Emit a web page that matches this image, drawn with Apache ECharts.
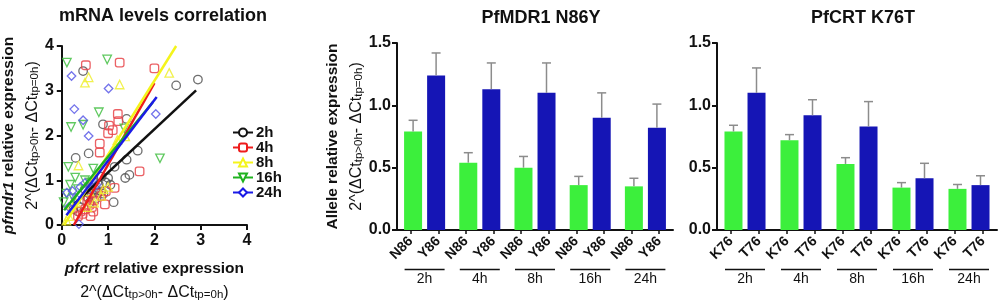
<!DOCTYPE html>
<html>
<head>
<meta charset="utf-8">
<script src="https://cdn.jsdelivr.net/npm/echarts@6/dist/echarts.min.js"></script>
<style>
  html, body { margin: 0; padding: 0; background: #fff; }
  #chart { width: 1003px; height: 306px; }
</style>
</head>
<body>
<div id="chart"></div>
<script>
// ---- data ----
const timePoints = ['2h', '4h', '8h', '16h', '24h'];
const mdrLabels = ['N86', 'Y86', 'N86', 'Y86', 'N86', 'Y86', 'N86', 'Y86', 'N86', 'Y86'];
const crtLabels = ['K76', 'T76', 'K76', 'T76', 'K76', 'T76', 'K76', 'T76', 'K76', 'T76'];

const mdrN86 = [0.79, 0.54, 0.50, 0.36, 0.35];
const mdrN86Err = [0.09, 0.08, 0.09, 0.07, 0.065];
const mdrY86 = [1.24, 1.13, 1.10, 0.90, 0.82];
const mdrY86Err = [0.18, 0.21, 0.24, 0.20, 0.19];

const crtK76 = [0.79, 0.72, 0.53, 0.34, 0.33];
const crtK76Err = [0.05, 0.045, 0.05, 0.04, 0.035];
const crtT76 = [1.10, 0.92, 0.83, 0.415, 0.36];
const crtT76Err = [0.20, 0.125, 0.20, 0.12, 0.075];

// scatter: [pfcrt, pfmdr1]
const pts2h = [[0.46, 3.44], [2.94, 3.25], [2.47, 3.12], [0.89, 2.25], [1.40, 2.37], [0.30, 1.50], [0.58, 1.60],
  [1.40, 1.46], [1.64, 1.66], [1.37, 1.05], [1.46, 1.12], [1.14, 1.30], [1.12, 0.51], [0.86, 1.08], [1.00, 1.05],
  [0.95, 0.95], [0.80, 0.90], [0.72, 0.80], [0.65, 0.70], [0.55, 0.62], [0.48, 0.55], [0.60, 0.50], [0.75, 0.60],
  [0.85, 0.75], [0.70, 0.95], [0.40, 0.40], [0.35, 0.30], [0.90, 0.70], [1.05, 0.90], [0.62, 0.85], [0.78, 0.72],
  [0.50, 0.80], [0.25, 0.35]];
const pts4h = [[0.52, 3.57], [1.25, 3.63], [2.00, 3.50], [1.21, 2.48], [1.22, 2.32], [1.00, 2.05], [1.10, 2.12],
  [1.02, 2.22], [0.82, 1.82], [0.82, 1.62], [1.68, 1.20], [1.14, 0.83], [0.93, 0.46], [0.60, 0.45], [0.50, 0.35],
  [0.45, 0.25], [0.70, 0.55], [0.75, 0.70], [0.55, 0.55], [0.65, 0.40], [0.40, 0.30], [0.85, 0.65], [0.68, 0.30],
  [0.58, 0.62], [0.95, 0.75], [0.35, 0.20], [0.62, 0.20]];
const pts8h = [[0.50, 3.18], [0.58, 3.30], [1.25, 3.14], [2.32, 3.40], [0.36, 1.33], [1.37, 1.98], [1.20, 1.90],
  [0.90, 0.80], [0.70, 0.50], [0.55, 0.40], [0.30, 0.50], [0.20, 0.45], [0.85, 0.65], [0.15, 0.20], [1.00, 0.85],
  [0.60, 0.75], [0.10, 0.10]];
const pts16h = [[0.11, 3.63], [0.98, 3.70], [0.20, 2.19], [0.46, 2.24], [0.80, 2.52], [1.35, 2.16], [2.12, 1.49],
  [0.14, 1.30], [0.29, 1.06], [0.68, 1.26], [0.04, 0.51], [0.18, 0.90], [0.10, 0.70], [0.35, 0.80], [0.50, 1.00],
  [0.25, 0.60], [0.60, 0.95]];
const pts24h = [[0.21, 3.33], [1.01, 3.05], [0.27, 2.59], [0.46, 2.34], [0.58, 1.99], [2.03, 2.48], [0.11, 0.72],
  [0.23, 0.76], [0.37, 0.02], [0.50, 0.94], [0.40, 0.85], [0.65, 0.80], [0.30, 0.60], [0.15, 0.40], [0.75, 0.90]];

// regression line end points
const fit2h = [[0.27, 0.47], [2.90, 3.01]];
const fit4h = [[0.26, 0.0], [2.00, 3.17]];
const fit8h = [[0.05, 0.0], [2.47, 4.0]];
const fit16h = [[0.05, 0.33], [1.97, 2.75]];
const fit24h = [[0.10, 0.22], [2.05, 2.86]];

// ---- styles ----
const FONT = 'Liberation Sans, Arial, sans-serif';
const GREEN = '#3cef3c';
const BLUE = '#1515b5';
const BAR_W = 18;
const BAR_GAP = 5;

const sets = [
  { name: '2h', pts: pts2h, fit: fit2h, line: '#111111', dot: '#555555', symbol: 'circle', rot: 0 },
  { name: '4h', pts: pts4h, fit: fit4h, line: '#ee1c1c', dot: '#e8454a', symbol: 'roundRect', rot: 0 },
  { name: '8h', pts: pts8h, fit: fit8h, line: '#f4f41c', dot: '#eeee30', symbol: 'triangle', rot: 0 },
  { name: '16h', pts: pts16h, fit: fit16h, line: '#1fb21f', dot: '#44c044', symbol: 'triangle', rot: 180 },
  { name: '24h', pts: pts24h, fit: fit24h, line: '#1a1ae6', dot: '#5a5ae8', symbol: 'diamond', rot: 0 }
];

const subRich = {
  n: { fontFamily: FONT, fontSize: 16, color: '#111', verticalAlign: 'bottom', lineHeight: 22 },
  s: { fontFamily: FONT, fontSize: 11.5, color: '#111', verticalAlign: 'bottom', lineHeight: 17 },
  b: { fontFamily: FONT, fontSize: 15.5, fontWeight: 'bold', color: '#111', lineHeight: 20 },
  i: { fontFamily: FONT, fontSize: 15.5, fontWeight: 'bold', fontStyle: 'italic', color: '#111', lineHeight: 20 }
};
const formula = '{n|2^(ΔCt}{s|tp>0h}{n|- ΔCt}{s|tp=0h}{n|)}';

function valueAxisStyle() {
  return {
    axisLine: { show: true, lineStyle: { color: '#111', width: 2 } },
    axisTick: { show: true, inside: false, length: 5, lineStyle: { color: '#111', width: 2 } },
    splitLine: { show: false },
    axisLabel: { fontFamily: FONT, fontSize: 16, fontWeight: 'bold', color: '#111' }
  };
}

function barYAxis(grid, name) {
  const ax = Object.assign({
    type: 'value', gridIndex: grid, min: 0, max: 1.5, interval: 0.5
  }, valueAxisStyle());
  ax.axisLabel = Object.assign({}, ax.axisLabel, { formatter: v => v.toFixed(1), margin: 6 });
  if (name) {
    ax.name = name;
    ax.nameLocation = 'middle';
    ax.nameRotate = 90;
    ax.nameGap = 29;
    ax.nameTextStyle = { rich: subRich };
  }
  return ax;
}

function groupAxes(grid, labels) {
  return [
    { // bars, draws the axis line
      type: 'category', gridIndex: grid, data: timePoints,
      axisLine: { lineStyle: { color: '#111', width: 2 } },
      axisTick: { show: false }, axisLabel: { show: false }
    },
    { // allele labels
      type: 'category', gridIndex: grid, data: labels, position: 'bottom',
      axisLine: { show: false },
      axisTick: { show: true, alignWithLabel: true, interval: 0, length: 4, lineStyle: { color: '#111', width: 1.5 } },
      axisLabel: { interval: 0, rotate: 45, margin: 9, fontFamily: FONT, fontSize: 14, fontWeight: 'bold', color: '#111' }
    },
    { // time group labels with underline
      type: 'category', gridIndex: grid, data: timePoints, position: 'bottom',
      axisLine: { show: false }, axisTick: { show: false },
      axisLabel: {
        interval: 0, margin: 38,
        formatter: v => '{u| }\n{t|' + v + '}',
        rich: {
          u: { width: 40, height: 1.5, lineHeight: 3, fontSize: 1, backgroundColor: '#111' },
          t: { fontFamily: FONT, fontSize: 14, color: '#111', lineHeight: 16 }
        }
      }
    }
  ];
}

function barSeries(xIdx, yIdx, values, color) {
  return {
    type: 'bar', xAxisIndex: xIdx, yAxisIndex: yIdx, data: values,
    barWidth: BAR_W, barGap: (BAR_GAP / BAR_W * 100).toFixed(0) + '%',
    itemStyle: { color: color }, z: 2
  };
}

function errorSeries(xIdx, yIdx, means, errs, side) {
  return {
    type: 'custom', xAxisIndex: xIdx, yAxisIndex: yIdx, z: 3,
    data: means.map((m, i) => [i, m, m + errs[i]]),
    renderItem: (params, api) => {
      const base = api.coord([api.value(0), api.value(1)]);
      const top = api.coord([api.value(0), api.value(2)]);
      const x = base[0] + side * (BAR_W + BAR_GAP) / 2;
      const st = { stroke: '#8c8c8c', lineWidth: 1.5 };
      return {
        type: 'group', children: [
          { type: 'line', shape: { x1: x, y1: base[1], x2: x, y2: top[1] }, style: st },
          { type: 'line', shape: { x1: x - 4.5, y1: top[1], x2: x + 4.5, y2: top[1] }, style: st }
        ]
      };
    }
  };
}

const chart = echarts.init(document.getElementById('chart'), null, { renderer: 'canvas' });

const scatterX = Object.assign({
  type: 'value', gridIndex: 0, min: 0, max: 4, interval: 1,
  name: '{i|pfcrt}{b| relative expression}\n' + formula,
  nameLocation: 'middle', nameGap: 34,
  nameTextStyle: { rich: subRich }
}, valueAxisStyle());
const scatterY = Object.assign({
  type: 'value', gridIndex: 0, min: 0, max: 4, interval: 1,
  name: '{i|pfmdr1}{b| relative expression}\n' + formula,
  nameLocation: 'middle', nameRotate: 90, nameGap: 17,
  nameTextStyle: { rich: subRich }
}, valueAxisStyle());

const mdrAxes = groupAxes(1, mdrLabels);
const crtAxes = groupAxes(2, crtLabels);

const series = [];
// fit lines first so the legend uses their icon
sets.forEach(s => {
  series.push({
    name: s.name, type: 'line', xAxisIndex: 0, yAxisIndex: 0, data: s.fit,
    symbol: s.symbol, symbolRotate: s.rot, symbolSize: 7, showSymbol: false,
    lineStyle: { color: s.line, width: 2.5 },
    itemStyle: { color: '#fff', borderColor: s.line, borderWidth: 1.5 },
    z: 4, silent: true
  });
});
sets.forEach(s => {
  series.push({
    name: s.name, type: 'scatter', xAxisIndex: 0, yAxisIndex: 0, data: s.pts,
    symbol: s.symbol, symbolRotate: s.rot, symbolSize: 8.5,
    itemStyle: { color: 'rgba(255,255,255,0)', borderColor: s.dot, borderWidth: 1.3, opacity: 0.85 },
    z: 3
  });
});
series.push(
  barSeries(1, 1, mdrN86, GREEN),
  barSeries(1, 1, mdrY86, BLUE),
  errorSeries(1, 1, mdrN86, mdrN86Err, -1),
  errorSeries(1, 1, mdrY86, mdrY86Err, 1),
  barSeries(4, 2, crtK76, GREEN),
  barSeries(4, 2, crtT76, BLUE),
  errorSeries(4, 2, crtK76, crtK76Err, -1),
  errorSeries(4, 2, crtT76, crtT76Err, 1)
);

const titleStyle = { fontFamily: FONT, fontSize: 18, fontWeight: 'bold', color: '#111' };
const option = {
  animation: false,
  backgroundColor: '#fff',
  title: [
    { text: 'mRNA levels correlation', left: 158, top: 2, textAlign: 'center', textStyle: titleStyle },
    { text: 'PfMDR1 N86Y', left: 536, top: 4, textAlign: 'center', textStyle: titleStyle },
    { text: 'PfCRT K76T', left: 858, top: 4, textAlign: 'center', textStyle: titleStyle }
  ],
  legend: {
    data: timePoints, orient: 'vertical', left: 232, top: 125, padding: 0,
    itemWidth: 20, itemHeight: 10, itemGap: 0,
    textStyle: { fontFamily: FONT, fontSize: 15, fontWeight: 'bold', color: '#111', lineHeight: 15, padding: [0, 0, 0, -2] },
    selectedMode: false
  },
  grid: [
    { left: 60, top: 46, width: 187, height: 186 },
    { left: 397, top: 43, width: 276, height: 187 },
    { left: 717, top: 43, width: 280, height: 187 }
  ],
  xAxis: [scatterX].concat(mdrAxes, crtAxes),
  yAxis: [
    scatterY,
    barYAxis(1, '{b|Allele relative expression}\n' + formula),
    barYAxis(2, null)
  ],
  series: series
};

chart.setOption(option);
</script>
</body>
</html>
